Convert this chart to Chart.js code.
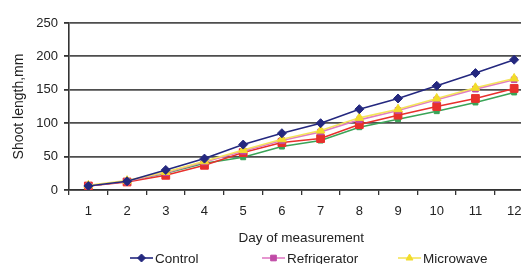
<!DOCTYPE html>
<html>
<head>
<meta charset="utf-8">
<script src="https://cdn.jsdelivr.net/npm/chart.js@4/dist/chart.umd.min.js"></script>
<style>
html,body{margin:0;padding:0;background:#fff;overflow:hidden;width:521px;height:264px;}
#wrap{position:absolute;left:0;top:0;width:540px;height:290px;}
</style>
</head>
<body>
<div id="wrap"><canvas id="c" width="540" height="290"></canvas></div>
<script>
const days = ["1","2","3","4","5","6","7","8","9","10","11","12"];
const control      = [6, 13, 30, 47, 68, 85, 100, 121, 137, 156, 175, 195];
const refrigerator = [6, 13, 26, 42, 58, 74, 87, 105, 119, 135, 151, 165];
const microwave    = [7, 14, 27, 43, 60, 76, 89, 108, 121, 137, 153, 167];
const freezer      = [6, 12, 22, 37, 56, 71, 77, 98, 112, 125, 137, 152];
const oven         = [6, 13, 25, 40, 49, 65, 74, 94, 106, 118, 131, 146];
const yTicks = [0, 50, 100, 150, 200, 250];

const FONT = "'Liberation Sans', Arial, sans-serif";

function ds(label, data, color, style, radius, order, lineColor){
  return {label, data, borderColor: lineColor || color, backgroundColor: color,
    pointBackgroundColor: color, pointBorderColor: color, pointStyle: style,
    pointRadius: radius, pointHoverRadius: radius, borderWidth: 1.6, pointBorderWidth: 1,
    tension: 0, fill: false, order};
}

const datasets = [
  ds("Control", control, "#24287f", "rectRot", 4.5, 0),
  ds("Refrigerator", refrigerator, "#c04aa6", "rect", 4, 2, "#e07cc4"),
  ds("Microwave", microwave, "#f2dc2a", "triangle", 5, 1, "#f4e45a"),
  ds("Freezer", freezer, "#e8302c", "rect", 5.5, 3),
  ds("Oven", oven, "#3aa457", "rect", 3.5, 4)
];

const legendPlugin = {
  id: 'customLegend',
  afterDraw(chart){
    const ctx = chart.ctx;
    const cols = [130, 262, 398];
    ctx.save();
    chart.data.datasets.forEach((d, i) => {
      const x0 = cols[i % 3];
      const y = 258 + Math.floor(i / 3) * 22;
      ctx.strokeStyle = d.borderColor;
      ctx.lineWidth = 1.6;
      ctx.beginPath(); ctx.moveTo(x0, y); ctx.lineTo(x0 + 23, y); ctx.stroke();
      ctx.fillStyle = d.pointBackgroundColor;
      ctx.strokeStyle = d.pointBorderColor;
      ctx.lineWidth = 1;
      if (Chart.helpers && Chart.helpers.drawPoint) {
        Chart.helpers.drawPoint(ctx, {pointStyle: d.pointStyle, radius: Math.min(d.pointRadius, 4), rotation: 0, borderWidth: 1}, x0 + 11.5, y);
      }
      ctx.fillStyle = '#222';
      ctx.font = "13.5px " + FONT;
      ctx.textBaseline = 'middle';
      ctx.textAlign = 'left';
      ctx.fillText(d.label, x0 + 25, y + 1);
    });
    ctx.restore();
  }
};

new Chart(document.getElementById('c'), {
  type: 'line',
  data: { labels: days, datasets },
  options: {
    responsive: false,
    animation: false,
    devicePixelRatio: 1,
    layout: { padding: { left: 0, right: 5, top: 23, bottom: 26 } },
    plugins: { legend: { display: false }, tooltip: { enabled: false } },
    scales: {
      x: {
        type: 'category',
        offset: true,
        afterFit(s){ s.height = 74; },
        grid: { offset: true, drawOnChartArea: false, drawTicks: true, tickLength: 5, color: '#333', lineWidth: 1.3 },
        border: { display: true, color: '#333', width: 1.6 },
        ticks: { color: '#222', font: { family: FONT, size: 13 }, padding: 9, maxRotation: 0, autoSkip: false },
        title: { display: true, text: 'Day of measurement', color: '#222', font: { family: FONT, size: 13.5 }, padding: { top: 2, bottom: 18 } }
      },
      y: {
        min: 0, max: 250,
        afterFit(s){ s.width = 69; },
        afterBuildTicks(s){ s.ticks = yTicks.map(v => ({ value: v })); },
        grid: { color: '#4e4e4e', lineWidth: 1.8, tickLength: 5, drawTicks: true, tickColor: '#333' },
        border: { display: true, color: '#333', width: 1.6 },
        ticks: { color: '#222', font: { family: FONT, size: 13 }, padding: 6 },
        title: { display: true, text: 'Shoot length,mm', color: '#222', font: { family: FONT, size: 14 }, padding: { top: 10.5, bottom: 0 } }
      }
    }
  },
  plugins: [legendPlugin]
});
</script>
</body>
</html>
